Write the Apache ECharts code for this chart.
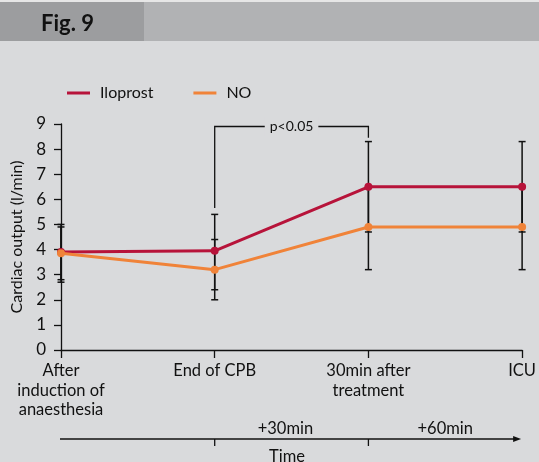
<!DOCTYPE html>
<html><head><meta charset="utf-8">
<script src="https://cdn.jsdelivr.net/npm/echarts@6/dist/echarts.min.js"></script>
<style>html,body{margin:0;padding:0;background:#d9dadc;}#c{width:539px;height:462px;}</style>
</head><body><div id="c"></div>
<script>
const categories = ['After\ninduction of\nanaesthesia', 'End of CPB', '30min after\ntreatment', 'ICU'];
const iloprost = [3.9, 3.95, 6.5, 6.5];
const no = [3.85, 3.2, 4.9, 4.9];
const iloprostLow = [2.7, 2.4, 4.7, 4.7];
const iloprostHigh = [5.0, 5.4, 8.3, 8.3];
const noLow = [2.8, 2.0, 3.2, 3.2];
const noHigh = [4.9, 4.4, 6.5, 6.5];
const yTicks = [0, 9, 1];
const bracket = { from: 1, to: 2, startLow: 5.65, top: 8.9, endLow: 8.45, text: 'p<0.05' };
const timeLabels = ['+30min', '+60min'];

const FONT = 'Lato, "Open Sans", sans-serif';
const RED = '#b7133a', ORANGE = '#f08339';

const chart = echarts.init(document.getElementById('c'), null, { renderer: 'canvas' });

function errData(lo, hi) { return lo.map((l, i) => [i, l, hi[i]]); }
function errRender(params, api) {
  const x = api.value(0);
  const p1 = api.coord([x, api.value(1)]);
  const p2 = api.coord([x, api.value(2)]);
  const w = 3.5;
  const st = { stroke: '#111', lineWidth: 1.5 };
  return { type: 'group', children: [
    { type: 'line', shape: { x1: p1[0], y1: p1[1], x2: p2[0], y2: p2[1] }, style: st },
    { type: 'line', shape: { x1: p1[0] - w, y1: p1[1], x2: p1[0] + w, y2: p1[1] }, style: st },
    { type: 'line', shape: { x1: p2[0] - w, y1: p2[1], x2: p2[0] + w, y2: p2[1] }, style: st }
  ]};
}

chart.setOption({
  backgroundColor: '#d9dadc',
  animation: false,
  textStyle: { fontFamily: FONT },
  grid: { left: 61, right: 13, top: 124, bottom: 112, containLabel: false },
  legend: {
    left: 62, top: 80, itemWidth: 23, itemHeight: 3, itemGap: 40,
    icon: 'rect',
    textStyle: { fontFamily: FONT, fontSize: 16, color: '#111', padding: [0, 0, 0, 5] },
    data: ['Iloprost', 'NO']
  },
  xAxis: {
    type: 'category', data: categories, boundaryGap: false,
    axisLine: { lineStyle: { color: '#111', width: 1.3 } },
    axisTick: { length: 8, lineStyle: { color: '#111', width: 1.3 } },
    axisLabel: { color: '#111', fontSize: 16.5, lineHeight: 19.5, margin: 11, fontFamily: FONT, interval: 0 }
  },
  yAxis: {
    type: 'value', min: yTicks[0], max: yTicks[1], interval: yTicks[2],
    name: 'Cardiac output (l/min)', nameLocation: 'middle', nameGap: 35,
    nameTextStyle: { color: '#111', fontSize: 16, fontFamily: FONT },
    splitLine: { show: false },
    axisLine: { show: true, lineStyle: { color: '#111', width: 1.3 } },
    axisTick: { show: true, length: 7, lineStyle: { color: '#111', width: 1.3 } },
    axisLabel: { color: '#111', fontSize: 17, margin: 15, fontFamily: FONT }
  },
  series: [
    { name: 'errIlo', type: 'custom', renderItem: errRender, data: errData(iloprostLow, iloprostHigh), z: 1, silent: true },
    { name: 'errNo', type: 'custom', renderItem: errRender, data: errData(noLow, noHigh), z: 1, silent: true },
    { name: 'Iloprost', type: 'line', data: iloprost, color: RED, symbol: 'circle', symbolSize: 8,
      lineStyle: { width: 3, color: RED }, itemStyle: { color: RED }, z: 3 },
    { name: 'NO', type: 'line', data: no, color: ORANGE, symbol: 'circle', symbolSize: 8,
      lineStyle: { width: 3, color: ORANGE }, itemStyle: { color: ORANGE }, z: 4 },
    { name: 'bracket', type: 'custom', silent: true, z: 2,
      data: [[bracket.from, bracket.to, bracket.startLow, bracket.top, bracket.endLow]],
      renderItem: function (params, api) {
        const a = api.coord([api.value(0), api.value(2)]);
        const b = api.coord([api.value(0), api.value(3)]);
        const c = api.coord([api.value(1), api.value(3)]);
        const d = api.coord([api.value(1), api.value(4)]);
        return { type: 'group', children: [
          { type: 'polyline', shape: { points: [a, b, c, d] }, style: { stroke: '#111', lineWidth: 1.3, fill: null } },
          { type: 'text', x: (b[0] + c[0]) / 2, y: b[1], style: {
            text: bracket.text, fontSize: 14, fontFamily: FONT, fill: '#111',
            align: 'center', verticalAlign: 'middle', backgroundColor: '#d9dadc', padding: [2, 5] } }
        ]};
      } }
  ]
});

const px = i => chart.convertToPixel({ xAxisIndex: 0 }, i);
const yArrow = 439;
const x0 = px(0), x1 = px(1), x2 = px(2), x3 = px(3);
chart.setOption({
  graphic: [
    { type: 'rect', shape: { x: 0, y: 0, width: 539, height: 41 }, style: { fill: '#b1b2b4' }, z: 10 },
    { type: 'rect', shape: { x: 0, y: 0, width: 539, height: 2 }, style: { fill: '#e6e6e6' }, z: 11 },
    { type: 'rect', shape: { x: 0, y: 2, width: 144, height: 39 }, style: { fill: '#9c9d9f' }, z: 11 },
    { type: 'text', x: 41, y: 24, z: 12, style: { text: 'Fig. 9', fontSize: 22, fontWeight: 'bold', fontFamily: FONT, fill: '#111', verticalAlign: 'middle' } },
    { type: 'line', z: 10, shape: { x1: x0 - 1, y1: yArrow, x2: x3 - 8, y2: yArrow }, style: { stroke: '#111', lineWidth: 1.3 } },
    { type: 'polygon', z: 10, shape: { points: [[x3 - 1, yArrow], [x3 - 9, yArrow - 3], [x3 - 9, yArrow + 3]] }, style: { fill: '#111' } },
    { type: 'line', z: 10, shape: { x1: x1, y1: yArrow, x2: x1, y2: yArrow + 7 }, style: { stroke: '#111', lineWidth: 1.3 } },
    { type: 'line', z: 10, shape: { x1: x2, y1: yArrow, x2: x2, y2: yArrow + 7 }, style: { stroke: '#111', lineWidth: 1.3 } },
    { type: 'text', z: 10, x: x1 + 0.46 * (x2 - x1), y: yArrow - 10, style: { text: timeLabels[0], fontSize: 16.5, fontFamily: FONT, fill: '#111', align: 'center', verticalAlign: 'middle' } },
    { type: 'text', z: 10, x: x2 + 0.5 * (x3 - x2), y: yArrow - 10, style: { text: timeLabels[1], fontSize: 16.5, fontFamily: FONT, fill: '#111', align: 'center', verticalAlign: 'middle' } },
    { type: 'text', z: 10, x: x1 + 0.47 * (x2 - x1), y: yArrow + 18, style: { text: 'Time', fontSize: 16.5, fontFamily: FONT, fill: '#111', align: 'center', verticalAlign: 'middle' } }
  ]
});
</script></body></html>
